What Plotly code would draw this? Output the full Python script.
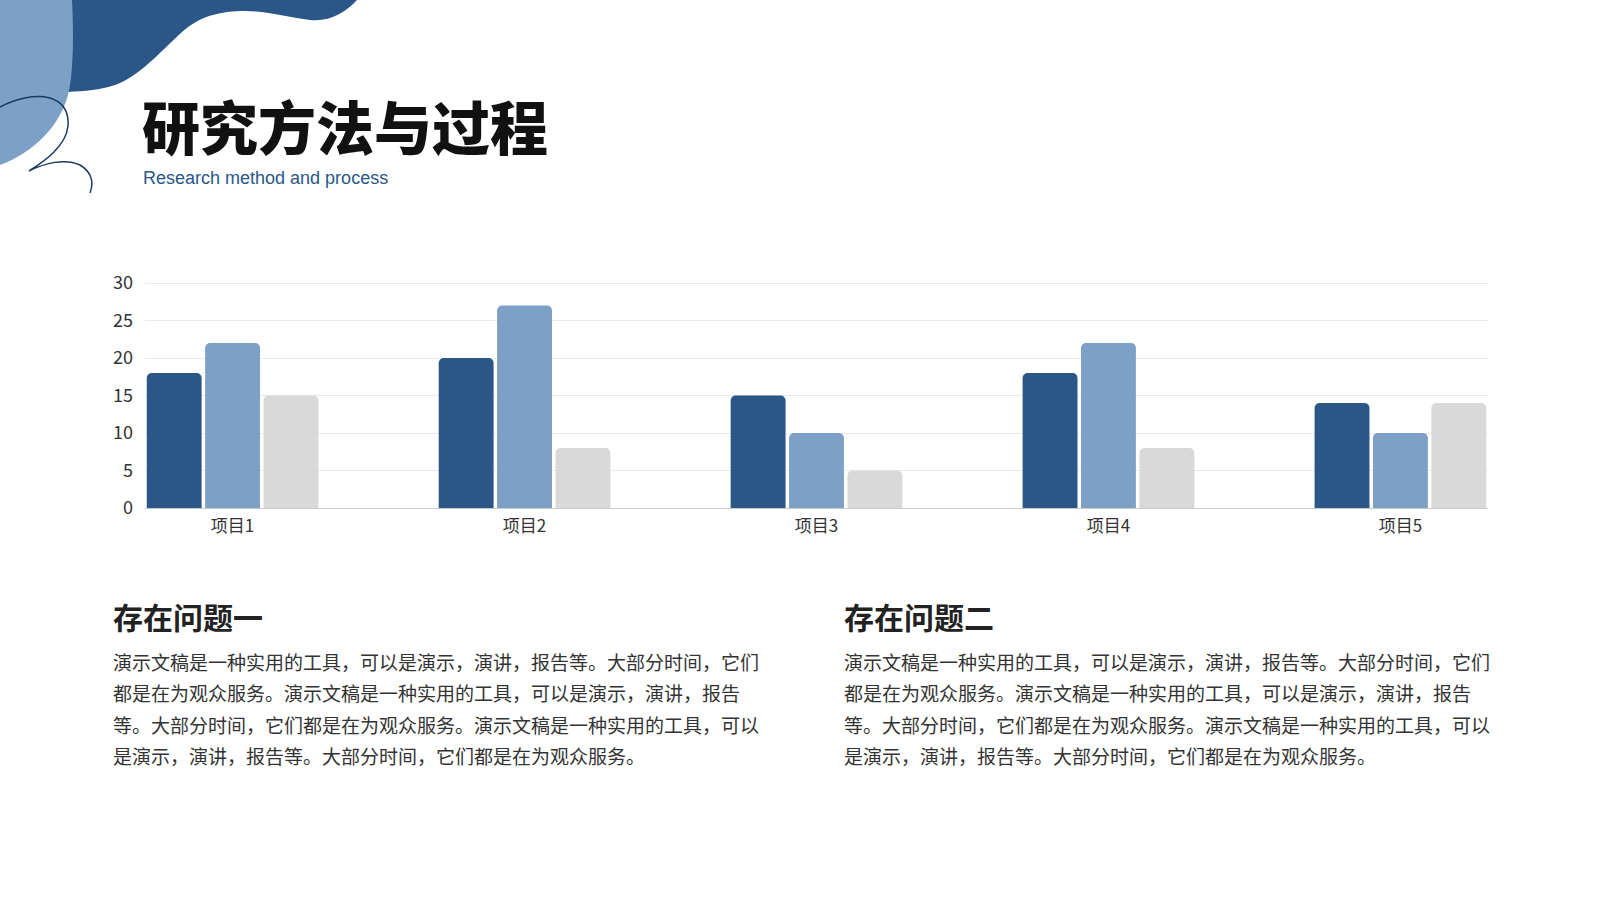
import plotly.graph_objects as go

W, H = 1600, 900

# chart data
categories = ["项目1", "项目2", "项目3", "项目4", "项目5"]
series_a = [18, 20, 15, 18, 14]
series_b = [22, 27, 10, 22, 10]
series_c = [15, 8, 5, 8, 14]
y_ticks = [0, 5, 10, 15, 20, 25, 30]

title_text = "研究方法与过程"
subtitle_text = "Research method and process"
heading_left = "存在问题一"
heading_right = "存在问题二"
body_lines = [
    "演示文稿是一种实用的工具，可以是演示，演讲，报告等。大部分时间，它们",
    "都是在为观众服务。演示文稿是一种实用的工具，可以是演示，演讲，报告",
    "等。大部分时间，它们都是在为观众服务。演示文稿是一种实用的工具，可以",
    "是演示，演讲，报告等。大部分时间，它们都是在为观众服务。",
]

DARK = "#2a5788"
MID = "#7da0c6"
GREY = "#d9d9d9"
CJK = "Noto Sans CJK SC"


def px(x, y):
    # pixel position -> paper coords (margins are zero)
    return f"{x / W:.5f},{1 - y / H:.5f}"


def path(cmds):
    out = []
    for c in cmds:
        op, pts = c[0], c[1:]
        out.append(op + " ".join(px(*p) for p in pts))
    return " ".join(out)


fig = go.Figure()
for vals, col in [(series_a, DARK), (series_b, MID), (series_c, GREY)]:
    fig.add_trace(go.Bar(x=categories, y=vals, marker=dict(color=col, cornerradius=5, line=dict(width=0)),
                         hoverinfo="x+y"))

# background blobs top-left
dark_blob = path([("M", (40, 0)), ("L", (357, 0)),
                  ("C", (346, 12), (330, 22), (310, 20)),
                  ("C", (290, 18), (268, 11), (245, 11)),
                  ("C", (220, 11), (200, 16), (182, 32)),
                  ("C", (160, 52), (140, 76), (115, 85)),
                  ("C", (100, 90), (85, 91), (68, 92)),
                  ("L", (40, 92))]) + " Z"
light_blob = path([("M", (0, 0)), ("L", (72, 0)),
                   ("C", (74, 40), (73, 75), (68, 95)),
                   ("C", (60, 125), (35, 152), (0, 165))]) + " Z"
curve = path([("M", (0, 107)),
              ("C", (15, 99), (35, 94), (50, 98)),
              ("C", (63, 102), (69, 112), (68, 126)),
              ("C", (66, 146), (45, 161), (29, 171)),
              ("C", (45, 163), (65, 158), (80, 165)),
              ("C", (92, 172), (94, 183), (90, 193))])

shapes = [
    dict(type="path", path=dark_blob, xref="paper", yref="paper", fillcolor=DARK, line=dict(width=0), layer="below"),
    dict(type="path", path=light_blob, xref="paper", yref="paper", fillcolor=MID, line=dict(width=0), layer="below"),
    dict(type="path", path=curve, xref="paper", yref="paper", line=dict(color="#1d3a60", width=1.5)),
]

ann = [
    dict(text=title_text, x=140 / W, y=1 - 125 / H, xanchor="left", yanchor="middle",
         font=dict(family=CJK, size=58, color="#111111", weight=900)),
    dict(text=subtitle_text, x=141 / W, y=1 - 178 / H, xanchor="left", yanchor="middle",
         font=dict(family="Liberation Sans", size=18, color=DARK)),
]
for x0, head in [(111, heading_left), (842, heading_right)]:
    ann.append(dict(text=head, x=x0 / W, y=1 - 616 / H, xanchor="left", yanchor="middle",
                    font=dict(family=CJK, size=30, color="#222222", weight=700)))
    for i, line in enumerate(body_lines):
        ann.append(dict(text=line, x=x0 / W, y=1 - (661 + i * 31.6) / H, xanchor="left", yanchor="middle",
                        font=dict(family=CJK, size=19, color="#333333")))
for a in ann:
    a.update(xref="paper", yref="paper", showarrow=False)

fig.update_layout(
    width=W, height=H,
    margin=dict(l=0, r=0, t=0, b=0),
    paper_bgcolor="white", plot_bgcolor="white",
    barmode="group", bargap=0.4, bargroupgap=0.06,
    showlegend=False,
    shapes=shapes, annotations=ann,
    font=dict(family=CJK, color="#404040"),
    xaxis=dict(domain=[145 / W, 1488 / W], range=[-0.3, 4.3], showgrid=False,
               showline=True, linecolor="#cccccc", linewidth=1, ticks="", ticklabelstandoff=3,
               tickfont=dict(family=CJK, size=17, color="#333333"), automargin=False),
    yaxis=dict(domain=[1 - 508 / H, 1 - 280.75 / H], range=[0, 30.3], tickvals=y_ticks,
               showgrid=True, gridcolor="#e9e9e9", gridwidth=1, zeroline=False,
               ticks="", ticklabelstandoff=11,
               tickfont=dict(family=CJK, size=18, color="#333333"), automargin=False),
)

fig.write_html("out.html", config={"displayModeBar": False},
               post_script="document.body.style.margin='0';document.body.style.overflow='hidden';")
